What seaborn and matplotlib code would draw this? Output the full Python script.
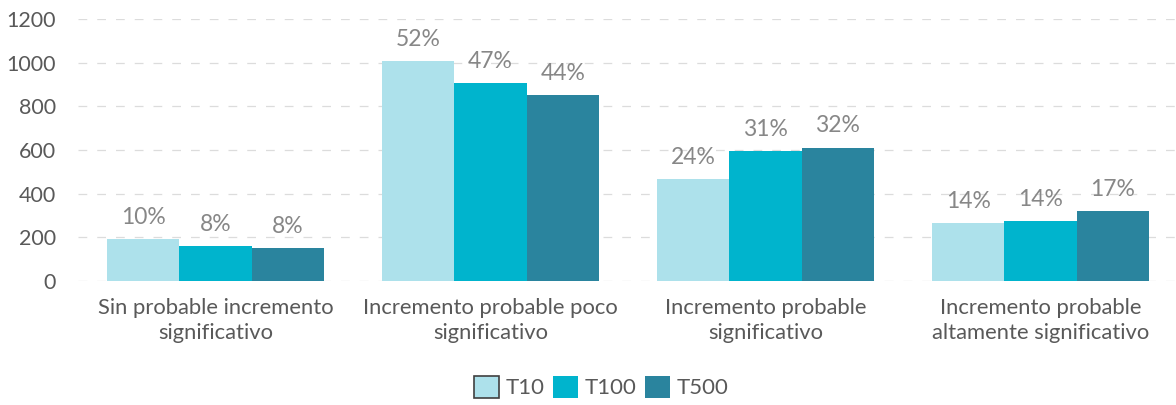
import matplotlib
matplotlib.use("Agg")
import matplotlib.pyplot as plt
from matplotlib.patches import Patch
import seaborn as sns
import pandas as pd

# Number of cases per category and return period
categories = [
    "Sin probable incremento\nsignificativo",
    "Incremento probable poco\nsignificativo",
    "Incremento probable\nsignificativo",
    "Incremento probable\naltamente significativo",
]
periods = ["T10", "T100", "T500"]
t10 = [192, 1009, 466, 267]
t100 = [160, 907, 594, 273]
t500 = [150, 853, 611, 322]
y_ticks = [0, 200, 400, 600, 800, 1000, 1200]

series = {"T10": t10, "T100": t100, "T500": t500}
colors = {"T10": "#ADE1EB", "T100": "#00B4CD", "T500": "#2A849E"}

rows = []
for p in periods:
    for c, v in zip(categories, series[p]):
        rows.append({"categoria": c, "periodo": p, "valor": v})
df = pd.DataFrame(rows)

sns.set_theme(style="white")
plt.rcParams["font.family"] = ["Lato", "DejaVu Sans"]

fig = plt.figure(figsize=(11.76, 4.05), dpi=100)
ax = fig.add_axes([78 / 1176, 1 - 281 / 405, 1100 / 1176, 262 / 405])

sns.barplot(
    data=df, x="categoria", y="valor", hue="periodo",
    order=categories, hue_order=periods,
    palette=colors, width=0.79, saturation=1, ax=ax, legend=False,
    linewidth=0,
)

# Percentage of each period's total shown above the bars
for cont, p in zip(ax.containers, periods):
    total = sum(series[p])
    labels = [f"{round(v / total * 100):.0f}%" for v in series[p]]
    ax.bar_label(cont, labels=labels, padding=8, fontsize=16.5, color="#878787")

ax.set_xlim(-0.5, 3.5)
ax.set_ylim(0, 1200)
ax.set_yticks(y_ticks)
ax.set_yticklabels([str(t) for t in y_ticks])
ax.set_xlabel("")
ax.set_ylabel("")
ax.tick_params(axis="y", length=0, pad=16, labelsize=15.5, labelcolor="#595959")
ax.tick_params(axis="x", length=0, pad=12, labelsize=15.8, labelcolor="#595959")
for lbl in ax.get_xticklabels():
    lbl.set_linespacing(1.35)

ax.set_axisbelow(True)
ax.yaxis.grid(True, color="#DCDCDC", linewidth=0.9, linestyle=(0, (7, 8)))
ax.xaxis.grid(False)
sns.despine(ax=ax, left=True, bottom=True)

handles = [
    Patch(facecolor=colors["T10"], edgecolor="#404040", linewidth=1.2, label="T10"),
    Patch(facecolor=colors["T100"], edgecolor="none", label="T100"),
    Patch(facecolor=colors["T500"], edgecolor="none", label="T500"),
]
fig.legend(
    handles=handles, loc="center", bbox_to_anchor=(601 / 1176, 1 - 387 / 405),
    ncol=3, frameon=False, fontsize=16, handlelength=1.15, handleheight=1.15,
    handletextpad=0.28, columnspacing=0.38, labelcolor="#595959",
)

fig.savefig("out.png", dpi=100, facecolor="white")
